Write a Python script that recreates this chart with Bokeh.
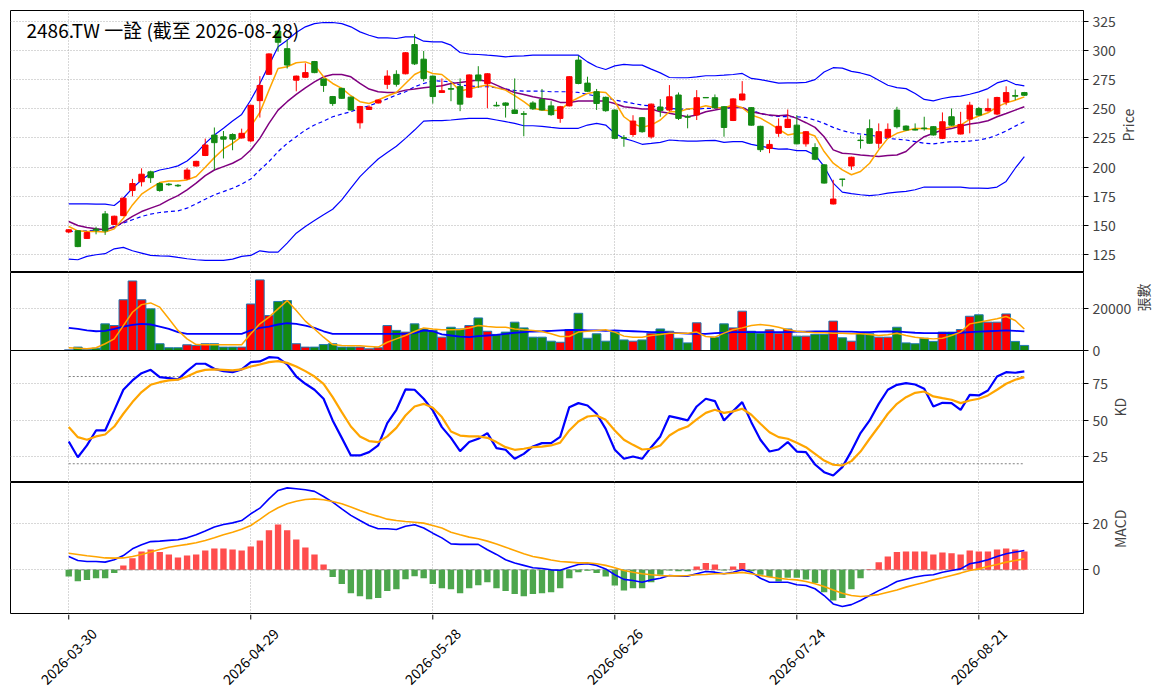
import math
from bokeh.plotting import figure
from bokeh.layouts import column
from bokeh.models import Range1d, FixedTicker, Label
from bokeh.core.properties import value
from bokeh.embed import file_html
from bokeh.resources import INLINE

# ---- data ----
title_text = "2486.TW 一詮 (截至 2026-08-28)"
tick_idx = [0, 20, 40, 60, 80, 100]
tick_labels = ["2026-03-30", "2026-04-29", "2026-05-28", "2026-06-26", "2026-07-24", "2026-08-21"]

open_ = [144.5, 145.5, 139.0, 147.0, 160.0, 151.0, 158.5, 180.0, 187.5, 196.0,
         186.0, 185.5, 184.5, 190.0, 201.0, 210.0, 227.5, 226.0, 228.0, 225.0,
         222.5, 257.0, 279.5, 316.5, 301.5, 274.5, 277.0, 290.5, 275.5, 260.5,
         267.5, 260.0, 238.0, 249.5, 255.0, 271.0, 279.5, 280.0, 305.0, 292.5,
         278.0, 264.0, 267.3, 269.0, 260.0, 279.0, 271.5, 253.0, 255.0, 249.0,
         245.8, 255.0, 258.0, 252.5, 241.8, 252.5, 291.7, 272.0, 264.6, 259.8,
         248.9, 225.3, 228.0, 242.4, 226.0, 251.5, 248.9, 261.8, 243.3, 244.7,
         259.7, 259.5, 251.8, 240.0, 257.6, 251.0, 235.0, 216.0, 229.0, 234.0,
         236.0, 220.0, 216.8, 202.0, 168.5, 189.8, 201.0, 223.2, 233.0, 220.5,
         225.6, 248.9, 235.2, 232.3, 233.5, 234.7, 224.7, 243.2, 228.4, 241.2,
         250.3, 248.3, 245.5, 255.8, 261.3, 263.9]
close = [146.4, 132.0, 144.0, 146.0, 145.5, 158.0, 173.5, 186.0, 194.0, 191.0,
         180.0, 185.0, 184.0, 197.5, 205.0, 219.0, 221.0, 224.0, 224.0, 229.0,
         253.0, 270.0, 297.0, 307.0, 287.5, 278.0, 281.0, 281.0, 270.0, 254.5,
         259.0, 249.0, 252.0, 251.5, 257.5, 278.0, 271.0, 298.0, 288.5, 276.0,
         260.5, 265.5, 266.8, 254.0, 279.0, 274.0, 280.0, 252.5, 253.0, 246.0,
         245.3, 250.0, 249.0, 245.0, 251.8, 277.5, 271.7, 265.0, 254.6, 248.4,
         224.7, 224.8, 239.5, 230.4, 254.0, 248.6, 260.3, 241.8, 242.8, 259.5,
         259.4, 251.0, 234.0, 258.5, 262.7, 236.0, 215.0, 219.5, 235.0, 241.0,
         220.0, 230.4, 206.8, 186.4, 172.7, 189.6, 208.5, 222.8, 220.5, 230.4,
         232.4, 234.7, 231.8, 231.8, 233.0, 227.6, 238.9, 236.0, 236.6, 253.1,
         244.6, 250.3, 259.7, 263.9, 260.8, 261.6]
high = [147.0, 146.0, 145.0, 149.0, 162.5, 158.5, 174.0, 190.0, 199.0, 197.0,
        187.0, 186.5, 185.5, 199.5, 205.5, 224.5, 234.0, 231.0, 229.0, 233.0,
        253.5, 278.0, 297.5, 317.0, 309.5, 278.5, 289.0, 291.0, 276.0, 261.0,
        268.0, 260.5, 252.5, 253.0, 258.0, 283.0, 283.0, 298.5, 314.0, 299.5,
        278.5, 276.0, 271.5, 276.0, 279.5, 286.5, 280.5, 256.0, 255.5, 276.0,
        248.0, 256.5, 267.0, 256.5, 252.5, 278.0, 295.5, 277.5, 267.0, 260.5,
        249.5, 227.5, 244.5, 243.0, 254.5, 258.3, 270.3, 264.0, 245.2, 266.0,
        259.8, 262.3, 252.3, 259.0, 273.7, 251.5, 235.5, 223.3, 241.8, 249.4,
        244.6, 231.0, 220.5, 202.5, 189.2, 190.0, 209.0, 227.3, 240.9, 237.5,
        237.5, 251.7, 235.8, 237.5, 243.2, 235.2, 246.9, 250.3, 247.4, 256.0,
        251.5, 258.8, 260.3, 269.3, 266.5, 264.5]
low = [143.5, 131.5, 138.5, 142.5, 142.0, 150.5, 158.0, 175.0, 183.5, 186.5,
       179.0, 184.0, 183.0, 189.0, 200.5, 209.5, 197.5, 207.5, 214.5, 224.5,
       221.5, 242.5, 279.0, 299.0, 284.5, 265.0, 276.5, 280.5, 264.5, 252.5,
       258.5, 248.5, 233.0, 249.0, 254.5, 267.0, 269.0, 279.5, 287.5, 273.5,
       254.5, 263.5, 256.5, 248.0, 259.5, 268.0, 250.5, 252.0, 242.5, 245.5,
       226.5, 249.0, 248.5, 244.0, 238.0, 252.0, 271.0, 264.5, 249.0, 247.5,
       224.0, 217.5, 226.0, 229.5, 224.5, 243.2, 248.0, 240.4, 233.3, 240.4,
       259.3, 250.5, 226.1, 239.5, 257.0, 235.5, 213.0, 212.0, 226.0, 233.5,
       219.5, 217.6, 206.0, 186.0, 168.0, 183.5, 197.7, 215.9, 220.0, 216.0,
       225.0, 233.2, 231.3, 231.5, 231.3, 227.0, 224.0, 235.5, 228.0, 229.0,
       244.0, 247.5, 244.5, 253.1, 257.4, 261.0]

ma5 = [149.2, 145.5, 144.9, 144.9, 144.4, 147.2, 156.3, 167.7, 176.9, 182.0,
       186.8, 188.2, 188.2, 189.1, 192.0, 199.9, 208.2, 215.6, 220.4, 226.1,
       234.7, 246.9, 266.0, 284.5, 286.0, 289.4, 290.2, 287.4, 277.4, 271.7,
       267.5, 261.2, 256.1, 254.6, 257.5, 261.0, 264.0, 271.7, 279.4, 283.1,
       280.3, 279.4, 273.1, 265.2, 266.9, 268.9, 270.3, 268.0, 266.0, 261.2,
       256.1, 250.4, 248.9, 248.4, 248.9, 255.5, 259.5, 263.2, 264.6, 264.0,
       256.1, 243.2, 237.5, 234.1, 236.1, 240.4, 247.5, 247.5, 249.8, 250.4,
       252.6, 250.9, 250.9, 253.2, 250.9, 244.7, 242.0, 237.5, 232.5, 227.6,
       229.0, 229.5, 226.7, 213.4, 203.4, 197.7, 193.5, 196.3, 203.4, 214.8,
       224.7, 229.0, 231.3, 233.2, 233.2, 232.4, 233.2, 234.7, 236.1, 240.9,
       243.8, 246.6, 251.7, 255.1, 257.4, 260.2]
ma10 = [153.5, 150.1, 148.4, 147.2, 146.4, 148.6, 152.9, 157.8, 162.0, 164.9,
        167.7, 172.0, 175.7, 180.6, 186.3, 192.8, 197.6, 200.5, 203.4, 207.6,
        214.7, 224.7, 237.5, 248.9, 256.1, 262.3, 268.0, 273.1, 277.4, 279.4,
        279.4, 277.4, 271.7, 266.9, 264.6, 264.0, 264.0, 266.0, 266.9, 268.0,
        268.9, 269.7, 271.7, 272.6, 273.7, 274.6, 273.7, 270.3, 266.9, 264.0,
        262.3, 260.3, 258.9, 258.0, 255.5, 255.5, 256.6, 256.6, 256.6, 256.6,
        254.6, 251.8, 250.9, 249.8, 249.8, 247.5, 246.1, 244.7, 243.2, 244.7,
        247.5, 248.9, 250.4, 251.8, 250.9, 247.5, 246.0, 244.6, 244.0, 244.6,
        241.8, 238.1, 234.1, 226.1, 214.8, 211.9, 211.4, 210.5, 209.7, 209.1,
        210.0, 210.5, 213.4, 220.5, 226.1, 229.0, 231.8, 233.2, 235.2, 236.9,
        238.1, 239.8, 243.2, 246.0, 248.9, 251.7]
ma20 = [145.0, 145.0, 145.5, 146.1, 146.7, 149.2, 152.1, 155.0, 157.8, 159.8,
        161.2, 162.0, 162.6, 164.9, 168.6, 172.6, 176.3, 179.1, 182.0, 185.4,
        189.9, 197.6, 204.8, 213.3, 220.4, 226.1, 231.8, 236.1, 239.5, 243.2,
        245.5, 247.5, 250.4, 252.6, 255.5, 258.5, 261.8, 264.6, 268.9, 271.7,
        274.0, 273.7, 273.1, 270.3, 269.7, 268.9, 268.9, 268.0, 266.9, 265.7,
        265.2, 265.2, 265.2, 264.6, 264.6, 264.6, 264.0, 262.3, 260.9, 259.5,
        257.5, 256.1, 254.6, 253.2, 252.4, 251.2, 250.4, 249.8, 249.8, 249.8,
        250.4, 250.4, 250.4, 250.9, 250.9, 248.9, 246.0, 244.3, 243.5, 243.2,
        243.2, 242.6, 240.3, 237.5, 234.1, 231.3, 229.5, 228.4, 227.6, 226.1,
        224.7, 223.9, 223.3, 221.9, 220.5, 219.9, 221.0, 221.9, 221.9, 222.4,
        223.3, 224.7, 227.6, 231.0, 235.2, 238.9]
bb_upper = [168.6, 168.6, 168.6, 168.3, 168.3, 167.2, 173.4, 182.0, 189.1, 194.8,
            197.6, 199.1, 201.1, 205.3, 211.9, 220.4, 227.6, 233.3, 239.5, 245.2,
            257.5, 271.7, 287.4, 303.1, 308.8, 315.3, 320.2, 323.0, 323.9, 323.9,
            323.0, 320.2, 315.9, 313.0, 310.8, 310.8, 310.2, 311.6, 311.6, 307.9,
            307.3, 307.3, 304.5, 298.2, 296.8, 296.5, 295.9, 295.4, 294.5, 295.1,
            295.4, 295.9, 295.9, 295.9, 295.9, 295.9, 295.9, 290.2, 286.0, 283.7,
            286.8, 288.0, 287.4, 287.4, 284.0, 280.8, 276.8, 276.6, 276.6, 277.4,
            278.3, 278.3, 278.8, 279.4, 280.3, 276.0, 275.0, 273.5, 272.0, 272.2,
            272.2, 272.7, 275.0, 281.5, 285.2, 284.9, 282.1, 280.7, 278.7, 274.4,
            270.2, 268.2, 267.3, 263.1, 258.0, 256.8, 258.8, 260.2, 260.8, 262.5,
            264.5, 267.3, 272.2, 274.4, 271.0, 269.6]
bb_lower = [121.3, 120.7, 123.6, 125.0, 125.9, 130.1, 131.3, 128.4, 126.4, 124.4,
            124.1, 123.9, 122.7, 121.6, 120.7, 120.2, 120.2, 120.2, 121.3, 123.6,
            124.4, 128.4, 127.3, 127.3, 135.0, 143.5, 149.2, 154.3, 159.2, 164.0,
            172.0, 182.0, 191.9, 199.6, 207.0, 212.6, 217.9, 224.7, 231.8, 239.5,
            239.8, 239.8, 240.4, 241.2, 241.8, 241.8, 241.8, 240.4, 239.0, 237.5,
            235.5, 235.5, 235.0, 234.1, 233.3, 233.3, 233.3, 236.1, 237.5, 236.1,
            229.0, 224.7, 222.4, 219.6, 220.4, 221.3, 223.3, 222.7, 222.4, 222.4,
            222.7, 223.0, 221.3, 221.9, 221.9, 219.5, 218.0, 216.5, 215.5, 215.6,
            214.2, 214.2, 210.5, 200.6, 186.4, 178.7, 177.3, 176.4, 175.6, 176.4,
            177.8, 178.7, 179.3, 180.7, 183.0, 183.0, 183.0, 183.0, 183.0, 182.1,
            182.1, 181.8, 183.0, 187.8, 199.1, 209.0]

volume = [300, 1600, 500, 1100, 12600, 11800, 24000, 32900, 24000, 19700,
          3200, 1300, 1300, 2700, 2400, 3200, 3200, 1600, 1600, 1600,
          22000, 33400, 16500, 23200, 23600, 3200, 1600, 1600, 2800, 3200,
          1600, 1600, 1600, 800, 1300, 11800, 9500, 8700, 12600, 10200,
          9500, 6300, 11000, 10200, 11800, 15400, 9100, 7600, 8700, 13400,
          10700, 6300, 6300, 4400, 3900, 9900, 17600, 5800, 7900, 4400,
          8700, 5000, 4400, 5000, 8200, 10200, 9100, 5800, 3600, 13100,
          0, 6300, 12600, 10700, 18600, 9100, 8200, 9800, 8200, 10200,
          6800, 6800, 7600, 7600, 13900, 6000, 4400, 8200, 7900, 6300,
          6300, 11000, 3600, 3200, 5800, 4300, 8700, 8700, 9900, 16200,
          16900, 13400, 13400, 17300, 4300, 2400]
vol_ma5 = [1300, 1100, 800, 1300, 3200, 5500, 11800, 18100, 21700, 22500,
           20500, 15000, 9500, 5500, 2800, 2700, 2700, 2700, 2700, 2700,
           7900, 12600, 15800, 19700, 23600, 18900, 13900, 10200, 6300, 2800,
           2400, 2200, 2200, 1900, 1600, 3900, 5500, 7100, 9000, 10700,
           10200, 9800, 9800, 9900, 10600, 11800, 11300, 11000, 11000, 10200,
           9800, 9500, 9000, 7900, 6600, 6600, 8700, 9100, 9500, 9800,
           8700, 6800, 6300, 6300, 7100, 7600, 8200, 8200, 8200, 8700,
           6600, 6300, 8200, 9800, 10700, 11800, 12300, 11800, 11000, 9800,
           9100, 8700, 8400, 8400, 8200, 8200, 7900, 7900, 7600, 7100,
           7400, 8200, 7100, 6300, 5800, 5500, 5800, 7100, 8700, 12600,
           13400, 14200, 15000, 16100, 14200, 10200]
vol_ma20 = [10700, 10200, 9500, 9100, 9300, 10200, 11300, 12100, 12600, 12300,
            11300, 10200, 8700, 7900, 7900, 7900, 7900, 7900, 7900, 7900,
            9500, 10700, 11300, 12300, 12900, 12600, 11800, 10700, 9100, 7900,
            7900, 7900, 7900, 7900, 7900, 7900, 7900, 7900, 8200, 9500,
            9100, 7600, 7100, 6600, 6300, 6800, 7100, 7400, 7900, 8400,
            8700, 9000, 9100, 9300, 9500, 9700, 9700, 9500, 9500, 9300,
            9500, 9300, 9100, 8900, 8700, 8700, 8400, 8200, 8000, 7900,
            7900, 8200, 8400, 8700, 8700, 8700, 8700, 8700, 8700, 8700,
            8900, 8900, 9000, 9000, 9000, 8900, 8900, 8700, 8700, 8900,
            9000, 9000, 8700, 8400, 8200, 8200, 8200, 8200, 8400, 8700,
            8900, 9100, 9300, 9500, 9300, 9000]

k_line = [35.3, 24.5, 32.6, 42.9, 42.9, 56.7, 70.9, 77.3, 82.3, 84.6,
          79.6, 78.9, 78.0, 83.7, 88.8, 88.8, 85.3, 83.7, 83.0, 84.9,
          89.9, 90.4, 93.3, 92.9, 88.3, 80.0, 75.0, 70.9, 64.7, 49.8,
          37.8, 25.7, 25.7, 28.0, 32.6, 47.9, 57.1, 71.1, 70.9, 64.7,
          56.7, 45.2, 37.8, 28.7, 34.9, 37.2, 41.1, 30.7, 29.6, 23.4,
          26.8, 31.9, 34.2, 34.2, 38.5, 58.9, 61.7, 60.1, 54.4, 44.0,
          29.6, 23.4, 25.0, 23.4, 31.4, 38.8, 52.8, 51.4, 49.8, 59.4,
          64.7, 63.1, 49.8, 56.2, 62.4, 48.6, 36.5, 28.4, 29.8, 34.9,
          28.4, 28.0, 19.5, 14.2, 11.9, 17.7, 28.7, 41.1, 49.8, 61.2,
          70.9, 74.3, 75.5, 74.5, 71.6, 59.4, 61.9, 61.7, 57.1, 67.4,
          67.0, 70.4, 80.0, 83.0, 82.6, 83.5]
d_line = [45.2, 38.3, 36.5, 38.8, 40.1, 45.6, 54.4, 62.4, 69.3, 74.3,
          76.1, 77.3, 77.8, 80.0, 83.0, 84.6, 84.9, 84.6, 84.2, 84.9,
          86.9, 88.3, 89.9, 90.6, 89.4, 86.9, 83.7, 80.0, 75.0, 65.8,
          55.5, 45.6, 38.8, 35.6, 34.9, 38.8, 44.7, 53.2, 59.4, 61.2,
          58.5, 52.1, 42.2, 39.4, 38.8, 38.8, 37.8, 34.9, 31.4, 29.6,
          30.3, 31.4, 31.8, 32.6, 34.5, 42.9, 49.1, 52.5, 53.2, 50.2,
          42.9, 36.5, 33.0, 29.8, 30.3, 32.6, 39.4, 43.3, 45.6, 50.5,
          55.0, 57.1, 55.0, 56.0, 57.8, 53.7, 47.5, 41.7, 38.3, 37.2,
          34.4, 31.4, 26.8, 22.2, 19.3, 18.8, 21.8, 28.4, 37.2, 45.6,
          54.4, 61.2, 65.8, 68.8, 69.7, 66.3, 65.1, 64.0, 61.7, 63.5,
          64.7, 67.0, 70.9, 75.0, 77.8, 79.6]

dif = [5.7, 4.0, 3.6, 3.6, 3.3, 4.3, 6.1, 9.0, 10.7, 12.1,
       12.3, 12.6, 12.9, 13.7, 15.0, 16.6, 18.3, 19.4, 20.1, 21.1,
       24.0, 26.4, 30.4, 34.0, 35.1, 34.7, 34.3, 33.6, 31.4, 29.0,
       26.1, 23.3, 21.1, 19.0, 17.6, 17.6, 17.3, 18.7, 19.3, 17.9,
       15.7, 13.7, 11.1, 10.9, 10.9, 10.9, 8.6, 6.6, 4.3, 2.9,
       1.9, 0.9, 0.6, 0.0, -0.2, 1.1, 2.3, 2.6, 1.9, 0.4,
       -2.1, -4.1, -4.6, -5.3, -4.3, -3.6, -2.4, -2.7, -2.7, -1.7,
       -0.7, -1.0, -1.7, -1.0, 0.0, -1.0, -3.6, -5.3, -5.3, -5.3,
       -6.4, -6.7, -8.1, -11.0, -14.6, -15.7, -14.9, -13.1, -11.0, -8.9,
       -7.1, -5.0, -4.0, -3.1, -2.4, -2.1, -1.0, -0.3, 0.4, 2.6,
       3.3, 4.3, 5.7, 6.9, 7.6, 8.3]
dea = [7.1, 6.6, 6.0, 5.6, 5.1, 5.0, 5.1, 5.7, 6.6, 7.6,
       8.7, 9.7, 10.3, 10.9, 11.6, 12.6, 13.7, 15.0, 16.1, 17.4,
       19.0, 21.6, 24.4, 26.6, 28.3, 29.4, 30.1, 30.4, 30.0, 29.3,
       28.3, 26.9, 25.4, 24.0, 22.9, 21.7, 21.1, 20.7, 20.4, 20.0,
       19.0, 17.9, 16.1, 15.0, 14.0, 13.3, 12.3, 11.1, 9.7, 8.3,
       6.9, 5.7, 5.0, 4.2, 3.6, 3.3, 3.0, 3.0, 2.6, 1.9,
       0.9, -0.3, -1.0, -1.7, -2.1, -2.4, -2.6, -2.6, -2.4, -2.1,
       -2.0, -1.7, -1.7, -1.4, -1.1, -1.7, -2.4, -3.1, -3.6, -4.0,
       -4.3, -5.0, -6.0, -7.1, -8.6, -10.0, -11.0, -11.4, -11.1, -10.6,
       -9.6, -8.6, -7.4, -6.4, -5.4, -4.3, -3.4, -2.4, -1.4, -0.3,
       0.4, 1.4, 2.3, 3.3, 4.0, 4.7]
osc = [-2.9, -4.9, -4.4, -3.6, -3.6, -1.4, 1.9, 5.0, 7.9, 8.7,
       7.6, 6.6, 5.3, 6.1, 6.6, 8.3, 9.1, 9.1, 8.7, 8.3,
       10.0, 12.6, 16.9, 19.4, 16.9, 13.0, 9.6, 6.6, 2.3, -3.1,
       -6.1, -10.0, -11.3, -12.6, -12.1, -9.1, -8.3, -4.0, -2.7, -3.6,
       -6.1, -7.9, -8.3, -10.0, -7.9, -6.6, -5.3, -7.9, -9.1, -10.4,
       -11.3, -10.4, -10.0, -9.6, -7.9, -3.6, -1.0, -0.4, -1.4, -2.9,
       -6.7, -8.9, -7.9, -7.9, -5.3, -2.1, -0.3, -0.6, -0.6, 1.4,
       2.9, 2.3, -0.3, 1.4, 2.9, -0.6, -2.1, -3.1, -5.0, -3.4,
       -3.4, -4.1, -5.6, -9.6, -13.1, -12.1, -8.3, -3.6, 0.3, 3.3,
       5.7, 7.6, 7.9, 7.9, 7.9, 6.6, 7.4, 7.1, 6.6, 8.3,
       7.9, 7.9, 8.7, 9.1, 8.7, 7.9]

price_ticks = [125, 150, 175, 200, 225, 250, 275, 300, 325]
vol_ticks = [0, 20000]
kd_ticks = [25, 50, 75]
macd_ticks = [0, 20]

# ---- styling ----
FONT = "Noto Sans CJK TC"
UP, DOWN = "#ff0000", "#138a13"
GRID = "#b0b0b0"
idx = list(range(len(close)))
cols = [UP if c >= o else DOWN for o, c in zip(open_, close)]
body_top = [max(o, c) for o, c in zip(open_, close)]
body_bot = [min(o, c) for o, c in zip(open_, close)]
osc_cols = ["#ff4d4d" if v >= 0 else "#4da64d" for v in osc]

xr = Range1d(-6.4, 111.5)


def panel(fh, yr, yticks, ylabel, top=0, bottom=0):
    p = figure(frame_width=1073, frame_height=fh, x_range=xr, y_range=yr,
               y_axis_location="right", toolbar_location=None,
               output_backend="svg", min_border_left=10, min_border_right=0,
               min_border_top=top, min_border_bottom=bottom)
    p.xaxis.visible = False
    p.outline_line_color = "black"
    p.outline_line_width = 1
    p.background_fill_color = "white"
    p.border_fill_color = "white"
    p.grid.grid_line_color = GRID
    p.grid.grid_line_dash = "1 2"
    p.grid.grid_line_width = 1
    p.xgrid.ticker = FixedTicker(ticks=tick_idx)
    p.ygrid.ticker = FixedTicker(ticks=yticks)
    ax = p.yaxis[0]
    ax.ticker = FixedTicker(ticks=yticks)
    ax.axis_label = ylabel
    ax.axis_label_orientation = math.pi / 2
    ax.axis_label_text_font = FONT
    ax.axis_label_text_font_size = "14px"
    ax.axis_label_text_font_style = "normal"
    ax.axis_label_standoff = 9
    ax.major_label_text_font = FONT
    ax.major_label_text_font_size = "14px"
    ax.major_label_standoff = 4
    ax.major_tick_out = 5
    ax.major_tick_in = 0
    ax.minor_tick_line_color = None
    ax.axis_line_color = "black"
    return p


# price
p1 = panel(262, Range1d(109.8, 334.2), price_ticks, "Price", top=10)
p1.line(idx, bb_upper, color="blue", line_width=1.2)
p1.line(idx, bb_lower, color="blue", line_width=1.2)
p1.line(idx, ma20, color="blue", line_width=1.2, line_dash="4 3")
p1.line(idx, ma10, color="purple", line_width=1.5)
p1.line(idx, ma5, color="orange", line_width=1.5)
p1.segment(idx, high, idx, low, color=cols, line_width=1)
p1.vbar(x=idx, width=0.6, top=body_top, bottom=body_bot, fill_color=cols, line_color=cols, line_width=1)
p1.add_layout(Label(x=16, y=257, x_units="screen", y_units="screen", text=title_text,
                    text_font=FONT, text_font_size="19px", text_baseline="top", text_color="black"))

# volume (extra bottom border keeps the "0" tick label whole; KD panel overlaps it)
p2 = panel(78, Range1d(0, 36900), vol_ticks, "張數", bottom=12)
p2.vbar(x=idx, width=0.95, top=volume, bottom=0, fill_color=cols, line_color="#1f77b4", line_width=1)
p2.line(idx, vol_ma20, color="blue", line_width=1.8)
p2.line(idx, vol_ma5, color="orange", line_width=1.5)

# KD
p3 = panel(132, Range1d(7.1, 97.9), kd_ticks, "KD")
p3.margin = (-12, 0, 0, 0)
p3.border_fill_alpha = 0
p3.line([idx[0], idx[-1]], [80, 80], color="gray", line_dash="2 2", line_width=1)
p3.line([idx[0], idx[-1]], [20, 20], color="gray", line_dash="2 2", line_width=1)
p3.line(idx, k_line, color="blue", line_width=2.2)
p3.line(idx, d_line, color="orange", line_width=2.2)

# MACD
p4 = panel(131, Range1d(-18.7, 37.4), macd_ticks, "MACD", bottom=1)
p4.line([idx[0], idx[-1]], [0, 0], color="gray", line_dash="4 2", line_width=1)
p4.vbar(x=idx, width=0.7, top=osc, bottom=0, fill_color=osc_cols, line_color=None)
p4.line(idx, dif, color="blue", line_width=1.6)
p4.line(idx, dea, color="orange", line_width=1.6)

# date strip under the MACD panel: tick marks and 45 degree labels centred on the ticks
p5 = figure(frame_width=1073, frame_height=80, x_range=xr, y_range=Range1d(-79, 1),
            toolbar_location=None, output_backend="svg", min_border_left=10,
            min_border_right=0, min_border_top=0, min_border_bottom=0)
p5.axis.visible = False
p5.grid.visible = False
p5.outline_line_color = None
p5.segment(x0=tick_idx, y0=[1] * len(tick_idx), x1=tick_idx, y1=[-4] * len(tick_idx),
           color="black", line_width=1)
p5.text(x=tick_idx, y=[-41] * len(tick_idx), text=tick_labels, angle=math.pi / 4,
        text_align="center", text_baseline="middle", text_font=value(FONT),
        text_font_size="14px", text_color="black")

layout = column(p1, p2, p3, p4, p5, spacing=0)
open("out.html", "w").write(file_html(layout, INLINE))
